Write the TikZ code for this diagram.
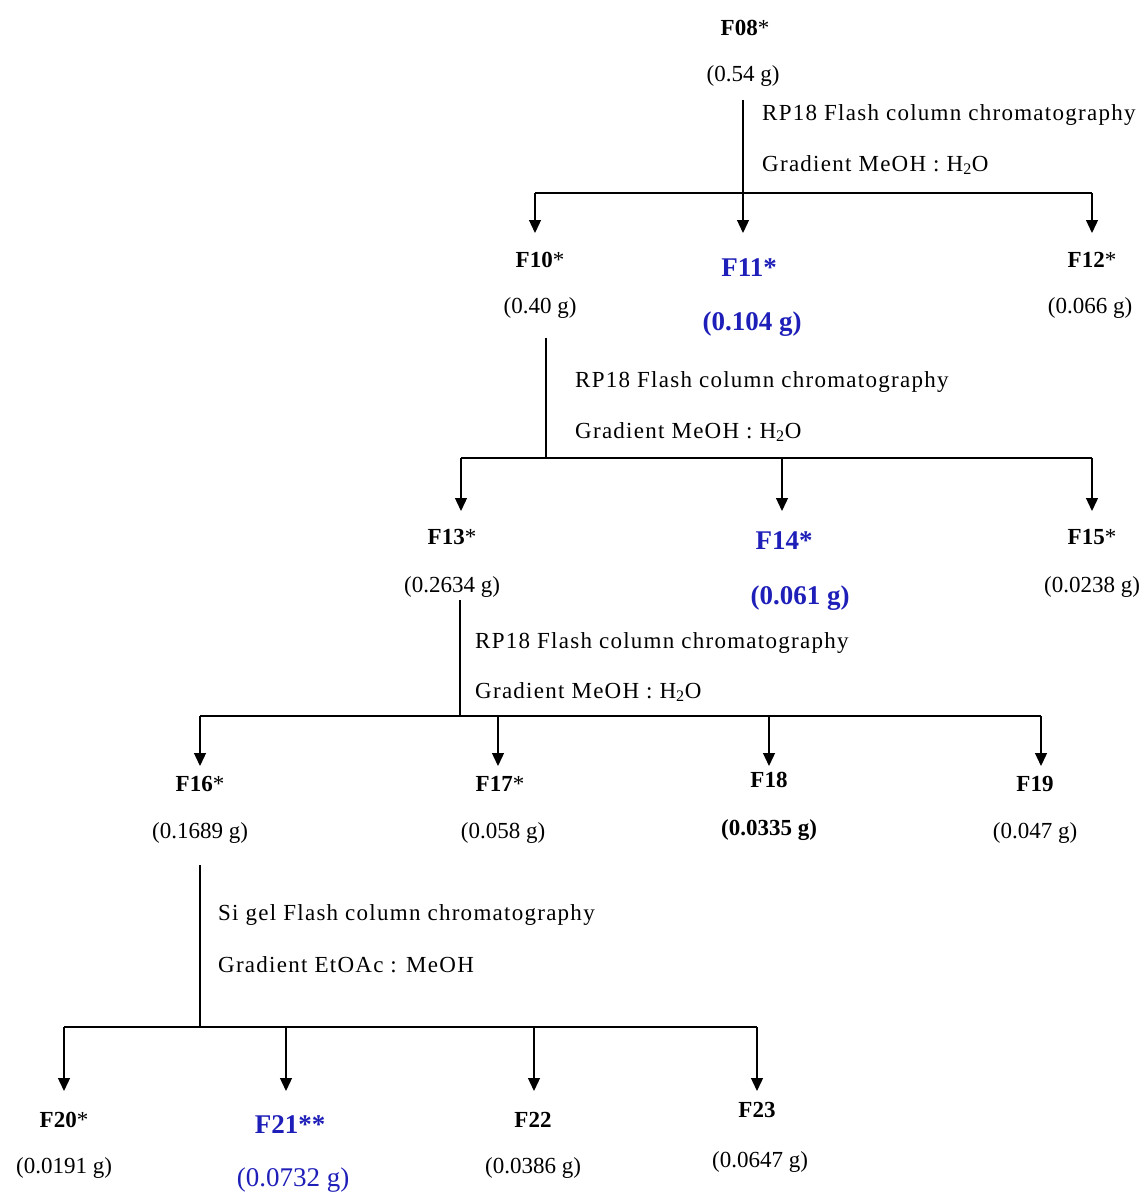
\documentclass[tikz,border=0pt]{standalone}
\usepackage{fontspec}
\setmainfont{Liberation Serif}
\usetikzlibrary{arrows.meta}
\definecolor{fblue}{RGB}{30,30,185}
\tikzset{
  x=1pt,y=-1pt,
  txt/.style={inner sep=0pt,font=\fontsize{23}{26}\selectfont},
  lab/.style={inner sep=0pt,font=\fontsize{23}{26}\selectfont\bfseries},
  blab/.style={inner sep=0pt,font=\fontsize{27}{30}\selectfont\bfseries,text=fblue},
  bmass/.style={inner sep=0pt,font=\fontsize{27}{30}\selectfont,text=fblue},
  meth/.style={inner sep=0pt,anchor=west,font=\fontsize{23}{26}\selectfont\addfontfeature{LetterSpace=5.5}},
  ln/.style={line width=1.3pt},
  arr/.style={line width=1.3pt,-{Triangle[length=13pt,width=12pt]}},
}
\newcommand{\st}{{\mdseries *}}
\begin{document}
\begin{tikzpicture}
\useasboundingbox[fill=white] (0,0) rectangle (1146,1196);
% ---- level 1
\node[lab] (F08) at (745,28) {F08\st};
\node[txt] (m08) at (743,76) {(0.54 g)};
\node[meth] (t1a) at (762,115) {RP18 Flash column chromatography};
\node[meth] (t1b) at (762,165) {Gradient MeOH : H\textsubscript{2}O};
\node[lab] (F10) at (540,260) {F10\st};
\node[txt] (m10) at (540,308) {(0.40 g)};
\node[blab] (F11) at (749,268) {F11*};
\node[blab] (m11) at (752,324) {(0.104 g)};
\node[lab] (F12) at (1092,260) {F12\st};
\node[txt] (m12) at (1090,308) {(0.066 g)};
\coordinate (s1) at (743,100);
\coordinate (j1) at (743,193);
\coordinate (b1l) at (535,193);
\coordinate (b1r) at (1092,193);
\coordinate (a10) at (535,233);
\coordinate (a11) at (743,233);
\coordinate (a12) at (1092,233);
\draw[ln] (s1) -- (j1);
\draw[ln] (b1l) -- (b1r);
\draw[arr] (b1l) -- (a10);
\draw[arr] (j1) -- (a11);
\draw[arr] (b1r) -- (a12);
% ---- level 2
\node[meth] (t2a) at (575,382) {RP18 Flash column chromatography};
\node[meth] (t2b) at (575,432) {Gradient MeOH : H\textsubscript{2}O};
\node[lab] (F13) at (452,537) {F13\st};
\node[txt] (m13) at (452,587) {(0.2634 g)};
\node[blab] (F14) at (784,541) {F14*};
\node[blab] (m14) at (800,598) {(0.061 g)};
\node[lab] (F15) at (1092,537) {F15\st};
\node[txt] (m15) at (1092,587) {(0.0238 g)};
\coordinate (s2) at (546,338);
\coordinate (j2) at (546,458);
\coordinate (b2l) at (461,458);
\coordinate (b2m) at (782,458);
\coordinate (b2r) at (1092,458);
\coordinate (a13) at (461,511);
\coordinate (a14) at (782,511);
\coordinate (a15) at (1092,511);
\draw[ln] (s2) -- (j2);
\draw[ln] (b2l) -- (b2r);
\draw[arr] (b2l) -- (a13);
\draw[arr] (b2m) -- (a14);
\draw[arr] (b2r) -- (a15);
% ---- level 3
\node[meth] (t3a) at (475,643) {RP18 Flash column chromatography};
\node[meth] (t3b) at (475,692) {Gradient MeOH : H\textsubscript{2}O};
\node[lab] (F16) at (200,784) {F16\st};
\node[txt] (m16) at (200,833) {(0.1689 g)};
\node[lab] (F17) at (500,784) {F17\st};
\node[txt] (m17) at (503,833) {(0.058 g)};
\node[lab] (F18) at (769,780) {F18};
\node[lab] (m18) at (769,830) {(0.0335 g)};
\node[lab] (F19) at (1035,784) {F19};
\node[txt] (m19) at (1035,833) {(0.047 g)};
\coordinate (s3) at (460,600);
\coordinate (j3) at (460,716);
\coordinate (b3a) at (200,716);
\coordinate (b3b) at (498,716);
\coordinate (b3c) at (769,716);
\coordinate (b3d) at (1041,716);
\coordinate (a16) at (200,766);
\coordinate (a17) at (498,766);
\coordinate (a18) at (769,766);
\coordinate (a19) at (1041,766);
\draw[ln] (s3) -- (j3);
\draw[ln] (b3a) -- (b3d);
\draw[arr] (b3a) -- (a16);
\draw[arr] (b3b) -- (a17);
\draw[arr] (b3c) -- (a18);
\draw[arr] (b3d) -- (a19);
% ---- level 4
\node[meth] (t4a) at (218,915) {Si gel Flash column chromatography};
\node[meth] (t4b) at (218,965) {Gradient EtOAc : MeOH};
\node[lab] (F20) at (64,1120) {F20\st};
\node[txt] (m20) at (64,1168) {(0.0191 g)};
\node[blab] (F21) at (290,1125) {F21**};
\node[bmass] (m21) at (293,1180) {(0.0732 g)};
\node[lab] (F22) at (533,1120) {F22};
\node[txt] (m22) at (533,1168) {(0.0386 g)};
\node[lab] (F23) at (757,1110) {F23};
\node[txt] (m23) at (760,1162) {(0.0647 g)};
\coordinate (s4) at (200,865);
\coordinate (j4) at (200,1027);
\coordinate (b4a) at (64,1027);
\coordinate (b4b) at (286,1027);
\coordinate (b4c) at (534,1027);
\coordinate (b4d) at (757,1027);
\coordinate (a20) at (64,1091);
\coordinate (a21) at (286,1091);
\coordinate (a22) at (534,1091);
\coordinate (a23) at (757,1091);
\draw[ln] (s4) -- (j4);
\draw[ln] (b4a) -- (b4d);
\draw[arr] (b4a) -- (a20);
\draw[arr] (b4b) -- (a21);
\draw[arr] (b4c) -- (a22);
\draw[arr] (b4d) -- (a23);
\end{tikzpicture}
\end{document}
